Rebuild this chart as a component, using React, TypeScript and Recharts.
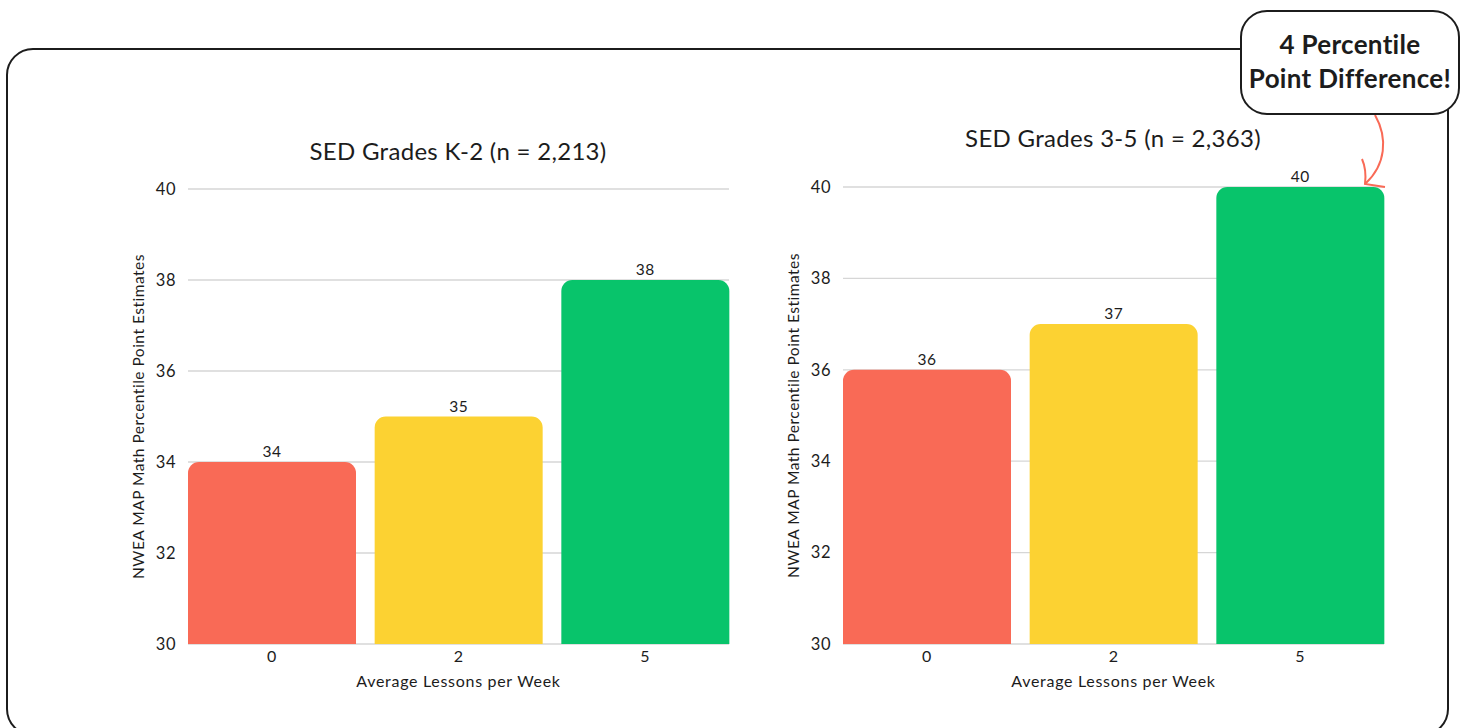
import { BarChart, Bar, XAxis, YAxis, CartesianGrid, Cell, LabelList } from "recharts";

// ─── Data ─────────────────────────────────────────────────────────────────────

const LESSONS = ["0", "2", "5"];
const K2_SCORES = [34, 35, 38];
const G35_SCORES = [36, 37, 40];
const BAR_COLORS = ["#F96A56", "#FCD232", "#08C46B"];
const Y_TICKS = [30, 32, 34, 36, 38, 40];

const FONT = "Lato, 'Open Sans', sans-serif";
const INK = "#1c1c1c";

type Plot = { x: number; y: number; w: number; h: number };

// One panel: bars drawn on a 30–40 scale, plot box placed on the page
function SedChart({ scores, plot }: { scores: number[]; plot: Plot }) {
  const rows = LESSONS.map((l, i) => ({ lessons: l, score: scores[i] }));
  const axisW = 68;
  const side = 20;
  const xAxisH = 50;
  const H = 728;
  return (
    <div style={{ position: "absolute", left: plot.x - axisW - side, top: 0 }}>
      <BarChart
        width={plot.w + axisW + side * 2}
        height={H}
        data={rows}
        margin={{ top: plot.y, right: side, left: side, bottom: H - plot.y - plot.h - xAxisH }}
        barCategoryGap={9.5}
      >
        <CartesianGrid horizontal vertical={false} stroke="#d6d6d6" strokeWidth={1.3} />
        <XAxis
          dataKey="lessons"
          axisLine={false}
          tickLine={false}
          height={xAxisH}
          tickMargin={1}
          padding={{ left: -9.5, right: -9.5 }}
          tick={{ fontSize: 16, fill: INK, letterSpacing: 0.4 }}
          label={{
            value: "Average Lessons per Week",
            position: "insideBottom",
            offset: 7,
            fontSize: 16,
            fill: INK,
            style: { letterSpacing: 0.7 },
          }}
        />
        <YAxis
          domain={[30, 40]}
          ticks={Y_TICKS}
          axisLine={false}
          tickLine={false}
          width={axisW}
          tickMargin={6}
          tick={{ fontSize: 16.5, fill: INK, letterSpacing: 0.5 }}
          label={{
            value: "NWEA MAP Math Percentile Point Estimates",
            angle: -90,
            position: "insideLeft",
            offset: 18,
            fontSize: 15.5,
            fill: INK,
            style: { textAnchor: "middle", letterSpacing: 0.5 },
          }}
        />
        <Bar dataKey="score" radius={[11, 11, 0, 0]} isAnimationActive={false}>
          {rows.map((_, i) => (
            <Cell key={i} fill={BAR_COLORS[i]} />
          ))}
          <LabelList
            dataKey="score"
            position="top"
            offset={5}
            fontSize={15.5}
            fill={INK}
            style={{ letterSpacing: 0.5 }}
          />
        </Bar>
      </BarChart>
    </div>
  );
}

export default function App() {
  return (
    <div
      style={{
        position: "absolute",
        left: 0,
        top: 0,
        width: 1463,
        height: 728,
        overflow: "hidden",
        background: "#fff",
        fontFamily: FONT,
      }}
    >
      <SedChart scores={K2_SCORES} plot={{ x: 188, y: 189, w: 541, h: 455 }} />
      <SedChart scores={G35_SCORES} plot={{ x: 843, y: 187, w: 541, h: 457 }} />

      <svg
        width={1463}
        height={728}
        style={{ position: "absolute", left: 0, top: 0, pointerEvents: "none", fontFamily: FONT }}
      >
        {/* rounded frame around both panels */}
        <rect x={7} y={49} width={1441} height={686} rx={26} fill="none" stroke={INK} strokeWidth={2} />

        <text x={458} y={160} textAnchor="middle" fontSize={24} letterSpacing={0.3} fill={INK}>
          SED Grades K-2 (n = 2,213)
        </text>
        <text x={1113} y={147} textAnchor="middle" fontSize={24} letterSpacing={0.3} fill={INK}>
          SED Grades 3-5 (n = 2,363)
        </text>

        {/* callout with curved arrow to the top bar */}
        <path
          d="M1375 115 C1388 138 1386 165 1365 184"
          fill="none"
          stroke="#F96A56"
          strokeWidth={2}
        />
        <path d="M1362 159 C1366 168 1366 176 1365 184 L1385 187" fill="none" stroke="#F96A56" strokeWidth={2} />
        <rect x={1241} y={11} width={218} height={103} rx={26} fill="#fff" stroke={INK} strokeWidth={2} />
        <text x={1350} y={54} textAnchor="middle" fontSize={26} fontWeight={700} letterSpacing={0.3} fill={INK}>
          4 Percentile
        </text>
        <text x={1350} y={88} textAnchor="middle" fontSize={26} fontWeight={700} letterSpacing={0.3} fill={INK}>
          Point Difference!
        </text>
      </svg>
    </div>
  );
}
